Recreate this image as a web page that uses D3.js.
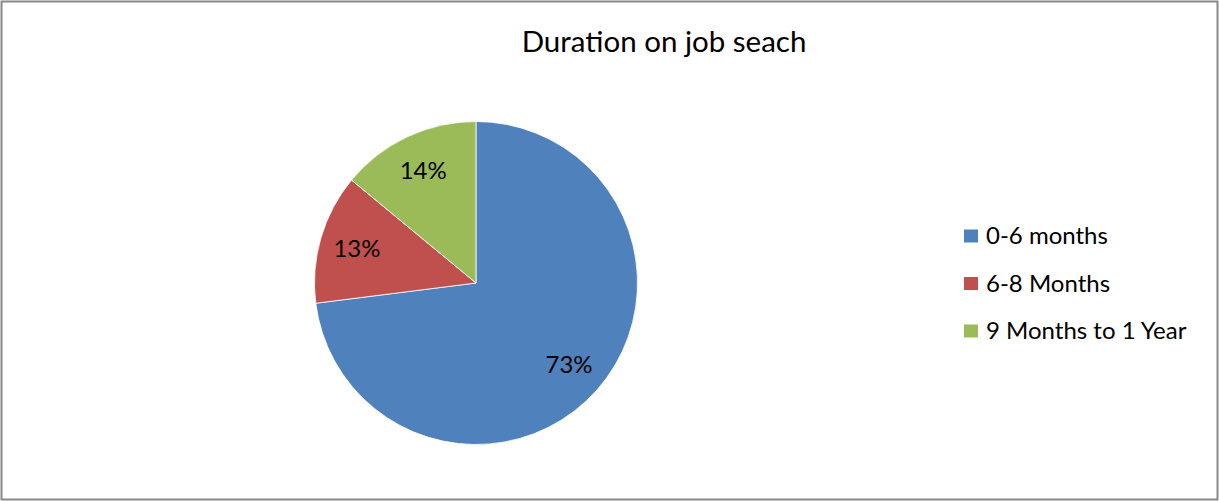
<!DOCTYPE html>
<html>
<head>
<meta charset="utf-8">
<script src="https://cdn.jsdelivr.net/npm/d3@7"></script>
<style>
  html, body { margin: 0; padding: 0; background: #fff; }
  svg { display: block; font-family: Lato, "Open Sans", sans-serif; }
</style>
</head>
<body>
<svg id="chart" width="1219" height="501"></svg>
<script>
// Job search duration shares
const categories = ["0-6 months", "6-8 Months", "9 Months to 1 Year"];
const values = [73, 13, 14];
const colors = ["#4F81BD", "#C0504D", "#9BBB59"];
const title = "Duration on job seach";

const svg = d3.select("#chart");
const W = 1219, H = 501;

// outer frame
svg.append("rect")
  .attr("x", 1.5).attr("y", 1.5)
  .attr("width", W - 3).attr("height", H - 3)
  .attr("fill", "#fff")
  .attr("stroke", "#888").attr("stroke-width", 2);

svg.append("text")
  .attr("x", 664).attr("y", 52)
  .attr("text-anchor", "middle")
  .attr("font-size", 29.5)
  .attr("fill", "#000")
  .text(title);

const cx = 476, cy = 283, r = 161.5;
const data = categories.map((c, i) => ({ name: c, value: values[i], color: colors[i] }));

const pie = d3.pie().sort(null).value(d => d.value);
const arcs = pie(data);
const arc = d3.arc().innerRadius(0).outerRadius(r);
const labelArc = d3.arc().innerRadius(124).outerRadius(124);
const total = d3.sum(values);

const g = svg.append("g").attr("transform", `translate(${cx},${cy})`);
g.selectAll("path.slice")
  .data(arcs)
  .join("path")
  .attr("class", "slice")
  .attr("d", arc)
  .attr("fill", d => d.data.color)
  .attr("stroke", "#fff")
  .attr("stroke-width", 0.8);

g.selectAll("text.pct")
  .data(arcs)
  .join("text")
  .attr("class", "pct")
  .attr("transform", d => `translate(${labelArc.centroid(d)})`)
  .attr("text-anchor", "middle")
  .attr("dy", "0.35em")
  .attr("font-size", 24)
  .attr("fill", "#000")
  .text(d => d3.format(".0%")(d.data.value / total));

// legend
const legendY = d3.scalePoint().domain(categories).range([236, 331]);
const lg = svg.append("g");
const items = lg.selectAll("g.item").data(data).join("g").attr("class", "item")
  .attr("transform", d => `translate(964,${legendY(d.name)})`);
items.append("rect")
  .attr("x", 0).attr("y", -6.5)
  .attr("width", 14).attr("height", 13)
  .attr("fill", d => d.color);
items.append("text")
  .attr("x", 22).attr("dy", "0.35em")
  .attr("font-size", 24)
  .attr("fill", "#000")
  .text(d => d.name);
</script>
</body>
</html>
